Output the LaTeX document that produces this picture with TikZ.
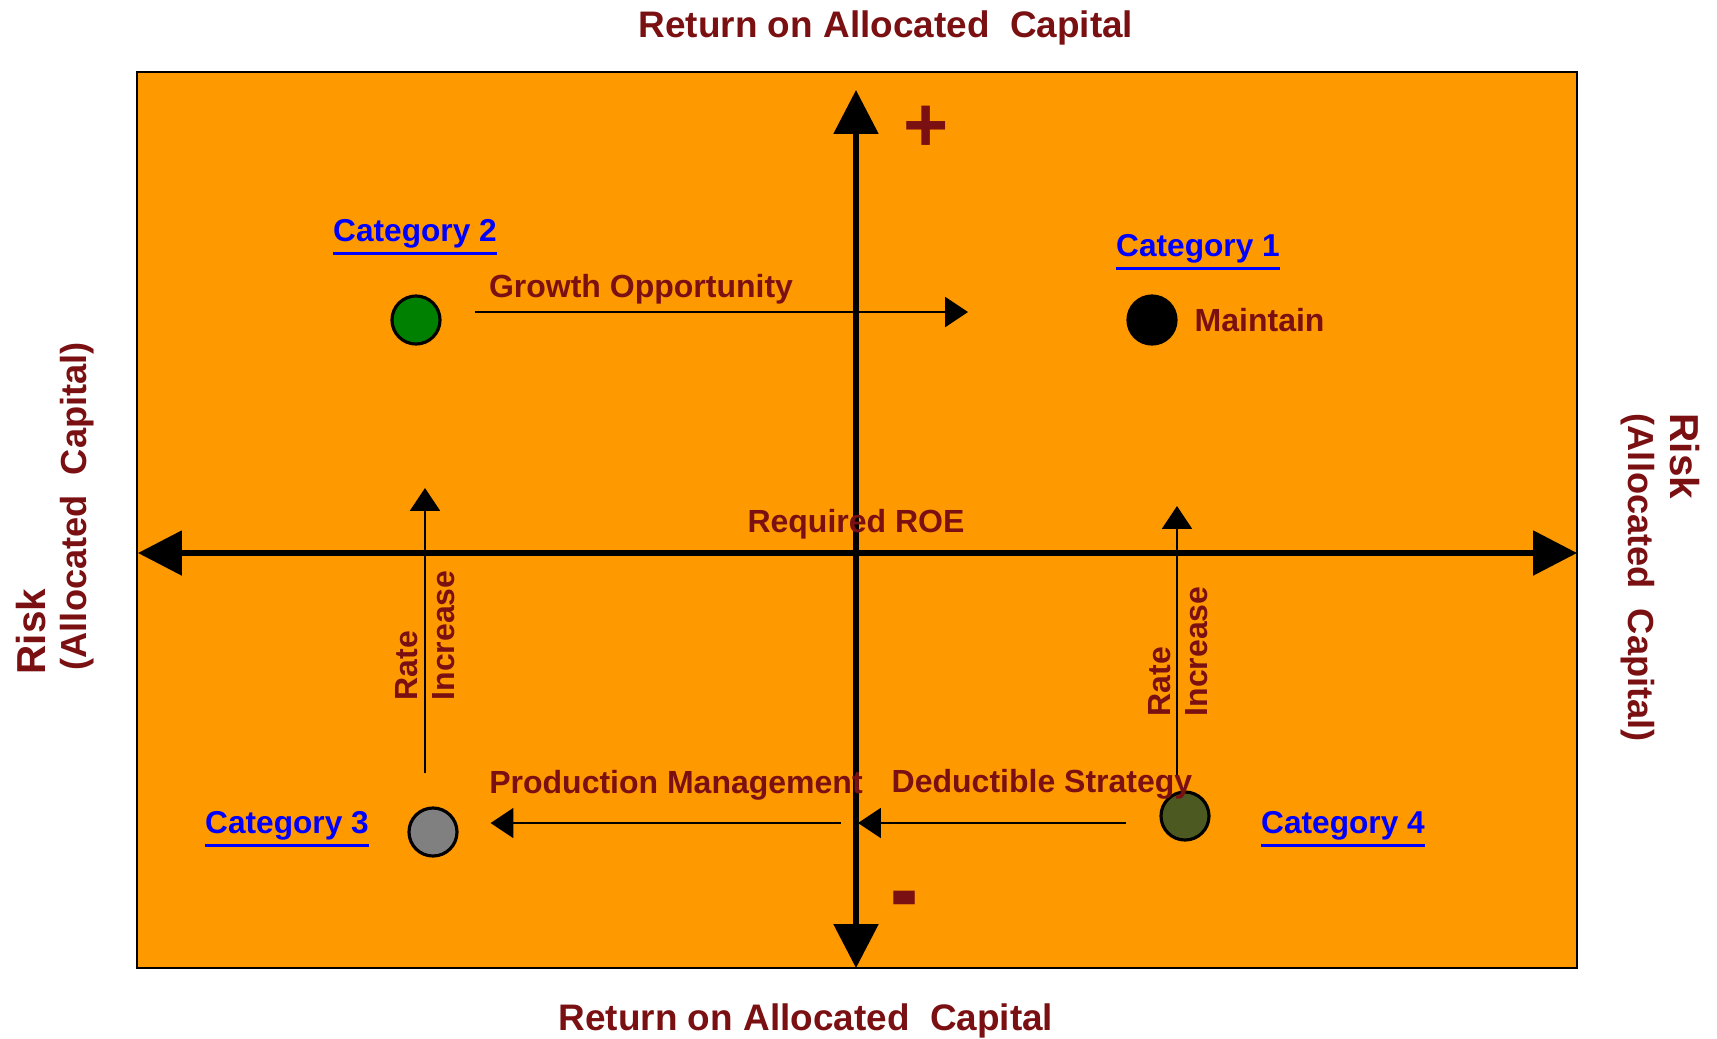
\documentclass[tikz,border=0pt]{standalone}
\usepackage{fontspec}
\setmainfont{Liberation Sans}
\usepackage{xcolor}
\usepackage{tikz}
\usetikzlibrary{arrows.meta}
\usetikzlibrary{calc}

\definecolor{roered}{RGB}{122,16,18}
\definecolor{quadorange}{RGB}{255,153,0}
\definecolor{olivedot}{RGB}{76,90,34}
\definecolor{catblue}{RGB}{0,0,255}
\newcommand{\catul}[1]{\vtop{\hbox{#1}\kern1.2pt\hrule height 0.9pt}}

\begin{document}
\begin{tikzpicture}[x=0.01cm, y=-0.01cm,
    axis/.style={line width=1.6pt, {Triangle[length=12.5pt,width=12.5pt]}-{Triangle[length=12.5pt,width=12.5pt]}},
    flow/.style={line width=0.65pt, -{Triangle[length=6.5pt,width=8.5pt]}},
    lbl/.style={text=roered, font=\fontsize{9.1}{10.6}\selectfont\bfseries, inner sep=0pt},
    cat/.style={text=catblue, font=\fontsize{9}{11}\selectfont\bfseries, inner sep=0pt},
    dot/.style={circle, draw=black, line width=0.9pt, minimum size=0.48cm, inner sep=0pt},
    title/.style={text=roered, font=\fontsize{10.5}{12}\selectfont\bfseries, inner sep=0pt}]
                \useasboundingbox (0,0) rectangle (1717,1038);
                % Quadrant field
                \draw[fill=quadorange, line width=0.8pt] (137,72) rectangle (1577,968);
                % Axes
                \coordinate (ytop) at (856,90);
                \coordinate (ybot) at (856,968);
                \coordinate (xleft) at (138,553);
                \coordinate (xright) at (1577,553);
                \draw[axis] (xleft) -- (xright);
                \draw[axis] (ybot) -- (ytop);
                \node[text=roered, font=\fontsize{22}{24}\selectfont\bfseries, inner sep=0pt] (plus) at (926,129) {+};
                \node[text=roered, font=\fontsize{24}{26}\selectfont\bfseries, inner sep=0pt, yscale=1.35] (minus) at (905,909) {-};
                \node[lbl] (roe) at (856,524) {Required ROE};
                % Titles
                \node[title] (toptitle) at (886,28) {Return on Allocated~~Capital};
                \node[title] (bottitle) at (806,1021) {Return on Allocated~~Capital};
                \node[title, font=\fontsize{11.5}{13}\selectfont\bfseries, rotate=90, anchor=west] (riskl) at (31,675) {Risk};
                \node[title, font=\fontsize{10.3}{12}\selectfont\bfseries, rotate=90, anchor=west] (capl) at (77,671) {(Allocated~~Capital)};
                \node[title, font=\fontsize{11.5}{13}\selectfont\bfseries, rotate=-90, anchor=west] (riskr) at (1685,413) {Risk};
                \node[title, font=\fontsize{10.3}{12}\selectfont\bfseries, rotate=-90, anchor=west] (capr) at (1638,413) {(Allocated~~Capital)};
                % Categories
                \node[cat] (cat1) at (1198,252) {\catul{Category 1}};
                \node[cat] (cat2) at (415,237) {\catul{Category 2}};
                \node[cat] (cat3) at (287,829) {\catul{Category 3}};
                \node[cat] (cat4) at (1343,829) {\catul{Category 4}};
                \node[dot, fill=black] (cat1dot) at (1152,320) {};
                \node[dot, fill=green!50!black] (cat2dot) at (416,320) {};
                \node[dot, fill=gray] (cat3dot) at (433,832) {};
                \node[dot, fill=olivedot] (cat4dot) at (1185,816) {};
                % Moves between categories
                \coordinate (growthend) at (968,312);
                \coordinate (rateleftend) at (425,488);
                \coordinate (raterightend) at (1177,506);
                \coordinate (prodstart) at (841,823);
                \coordinate (dedend) at (858,823);
                \draw[flow] ($(cat2dot.east)+(33,-8)$) -- (growthend);
                \draw[flow] ($(cat3dot.north)+(-8,-33)$) -- (rateleftend);
                \draw[flow] ($(cat4dot.north)+(-8,-12)$) -- (raterightend);
                \draw[flow] (prodstart) -- ($(cat3dot.east)+(32,-9)$);
                \draw[flow] ($(cat4dot.west)+(-33,7)$) -- (dedend);
                \node[lbl] (growth) at (641,289) {Growth Opportunity};
                \node[lbl, anchor=west] (maintain) at (1194,320) {Maintain};
                \node[lbl] (prod) at (676,785) {Production Management};
                \node[lbl] (ded) at (1042,784) {Deductible Strategy};
                \node[lbl, rotate=90, align=left, anchor=west] (rateleft) at (425,701) {Rate\\Increase};
                \node[lbl, rotate=90, align=left, anchor=west] (rateright) at (1178,717) {Rate\\Increase};
            \end{tikzpicture}
\end{document}
